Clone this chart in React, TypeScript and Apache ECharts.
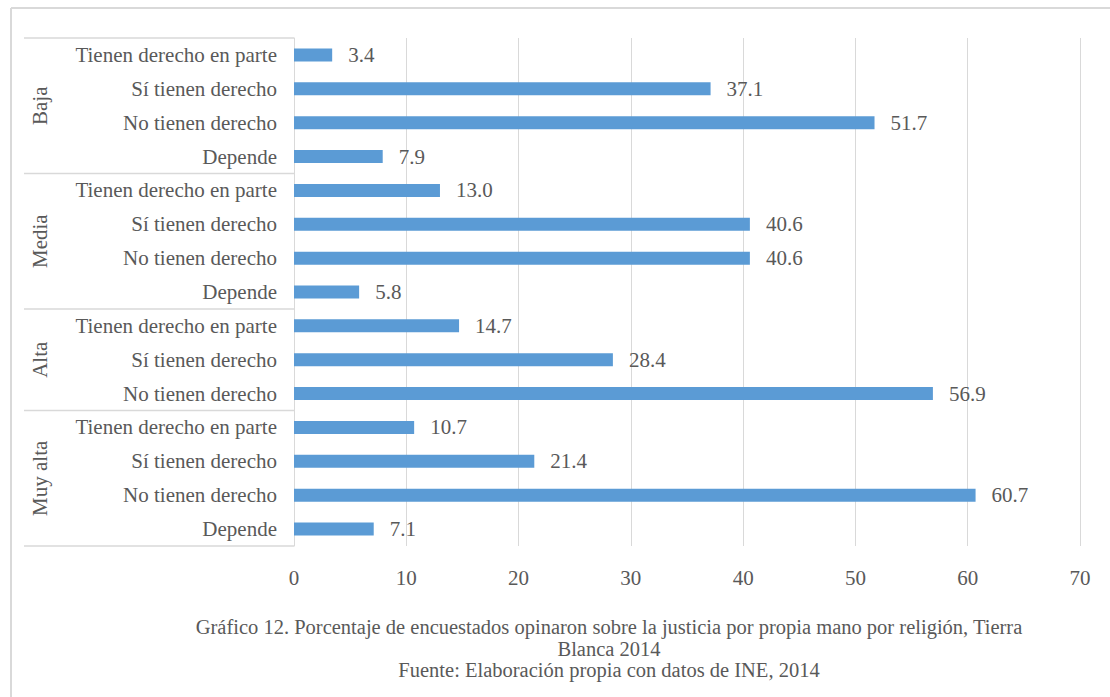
import React, { useEffect, useRef } from 'react';
import * as echarts from 'echarts';

const groupNames = ['Baja', 'Media', 'Alta', 'Muy alta'];
const bajaLabels = ['Tienen derecho en parte', 'Sí tienen derecho', 'No tienen derecho', 'Depende'];
const bajaValues = [3.4, 37.1, 51.7, 7.9];
const mediaLabels = ['Tienen derecho en parte', 'Sí tienen derecho', 'No tienen derecho', 'Depende'];
const mediaValues = [13.0, 40.6, 40.6, 5.8];
const altaLabels = ['Tienen derecho en parte', 'Sí tienen derecho', 'No tienen derecho'];
const altaValues = [14.7, 28.4, 56.9];
const muyAltaLabels = ['Tienen derecho en parte', 'Sí tienen derecho', 'No tienen derecho', 'Depende'];
const muyAltaValues = [10.7, 21.4, 60.7, 7.1];

const axisMin = 0;
const axisMax = 70;
const axisInterval = 10;

const captionLines = [
  'Gráfico 12. Porcentaje de encuestados opinaron sobre la justicia por propia mano por religión, Tierra',
  'Blanca 2014',
  'Fuente: Elaboración propia con datos de INE, 2014',
];

const groupLabelLists = [bajaLabels, mediaLabels, altaLabels, muyAltaLabels];
const groupValueLists = [bajaValues, mediaValues, altaValues, muyAltaValues];

export default function App() {
  const ref = useRef<HTMLDivElement>(null);

  useEffect(() => {
    if (!ref.current) return;
    const chart = echarts.init(ref.current, null, { renderer: 'svg' });
    const font = 'Liberation Serif';
    const textColor = '#595959';
    const lineColor = '#d9d9d9';

    const categories: string[] = [];
    const values: number[] = [];
    const groupSizes: number[] = [];
    groupLabelLists.forEach((labels, gi) => {
      labels.forEach((l, i) => {
        categories.push(l);
        values.push(groupValueLists[gi][i]);
      });
      groupSizes.push(labels.length);
    });

    chart.setOption({
      animation: false,
      textStyle: { fontFamily: font },
      grid: { left: 294, right: 30, top: 38, bottom: 151, containLabel: false },
      xAxis: {
        type: 'value',
        min: axisMin,
        max: axisMax,
        interval: axisInterval,
        axisLine: { show: false },
        axisTick: { show: false },
        axisLabel: { fontFamily: font, fontSize: 21, color: textColor, margin: 21 },
        splitLine: { show: true, lineStyle: { color: lineColor, width: 1 } },
      },
      yAxis: {
        type: 'category',
        inverse: true,
        data: categories,
        axisLine: { show: true, lineStyle: { color: lineColor, width: 1 } },
        axisTick: { show: false },
        axisLabel: { fontFamily: font, fontSize: 21, color: textColor, margin: 17 },
        splitLine: { show: false },
      },
      series: [
        {
          type: 'bar',
          data: values,
          barWidth: 13,
          itemStyle: { color: '#5b9bd5' },
          label: {
            show: true,
            position: 'right',
            distance: 16,
            fontFamily: font,
            fontSize: 21,
            color: textColor,
            formatter: (p: any) => Number(p.value).toFixed(1),
          },
        },
      ],
    });

    const c0 = chart.convertToPixel({ yAxisIndex: 0 }, 0) as number;
    const c1 = chart.convertToPixel({ yAxisIndex: 0 }, 1) as number;
    const step = c1 - c0;
    const axisX = chart.convertToPixel({ xAxisIndex: 0 }, axisMin) as number;
    const sepLeft = 24;

    const graphics: any[] = [];
    graphics.push({
      type: 'line',
      shape: { x1: 11, y1: 8, x2: 1110, y2: 8 },
      style: { stroke: lineColor, lineWidth: 2 },
    });
    graphics.push({
      type: 'line',
      shape: { x1: 11, y1: 8, x2: 11, y2: 697 },
      style: { stroke: lineColor, lineWidth: 2 },
    });

    let idx = 0;
    const topY = c0 - step / 2;
    graphics.push({
      type: 'line',
      shape: { x1: sepLeft, y1: topY, x2: axisX, y2: topY },
      style: { stroke: lineColor, lineWidth: 1.5 },
    });
    groupSizes.forEach((size, gi) => {
      const startY = c0 + (idx - 0.5) * step;
      const endY = c0 + (idx + size - 0.5) * step;
      graphics.push({
        type: 'line',
        shape: { x1: sepLeft, y1: endY, x2: axisX, y2: endY },
        style: { stroke: lineColor, lineWidth: 1.5 },
      });
      graphics.push({
        type: 'text',
        x: 40,
        y: (startY + endY) / 2,
        rotation: Math.PI / 2,
        style: {
          text: groupNames[gi],
          fontFamily: font,
          fontSize: 21,
          fill: textColor,
          align: 'center',
          verticalAlign: 'middle',
        },
      });
      idx += size;
    });

    graphics.push({
      type: 'text',
      x: 609,
      y: 648.5,
      style: {
        text: captionLines.join('\n'),
        fontFamily: font,
        fontSize: 20.5,
        lineHeight: 21.5,
        fill: textColor,
        align: 'center',
        verticalAlign: 'middle',
      },
    });

    chart.setOption({ graphic: graphics });

    return () => {
      chart.dispose();
    };
  }, []);

  return (
    <div
      ref={ref}
      style={{ position: 'fixed', left: 0, top: 0, width: 1110, height: 697, background: '#fff' }}
    />
  );
}
